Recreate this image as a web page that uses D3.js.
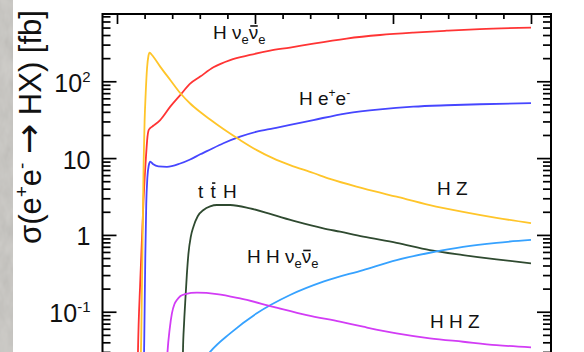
<!DOCTYPE html>
<html>
<head>
<meta charset="utf-8">
<script src="https://cdn.jsdelivr.net/npm/d3@7"></script>
<style>
  html, body { margin: 0; padding: 0; background: #ffffff; }
  svg { display: block; }
  text { font-family: "Liberation Sans", Arial, sans-serif; fill: #111; }
</style>
</head>
<body>
<svg id="chart" width="584" height="352"></svg>
<script>
// Higgs production cross sections sigma(e+e- -> HX) in fb versus sqrt(s) in TeV

// H nu_e nubar_e (WW fusion, incl. Z -> nu nu)
const hnnEnergy = [0.145, 0.152, 0.169, 0.192, 0.210, 0.221, 0.229, 0.240, 0.265, 0.313, 0.386, 0.458, 0.530, 0.603, 0.699, 0.820, 0.964, 1.109, 1.254, 1.423, 1.664, 1.906, 2.147, 2.388, 2.629, 3.0];
const hnnSigma  = [0.005, 0.030, 0.26, 2.8, 10.4, 19, 23, 24.5, 26.5, 31.3, 46.7, 66, 93, 115, 152, 189, 220, 250, 275, 310, 360, 400, 430, 455, 478, 500];

// H e+ e- (ZZ fusion)
const heeEnergy = [0.19, 0.198, 0.205, 0.212, 0.220, 0.230, 0.241, 0.260, 0.300, 0.362, 0.458, 0.530, 0.603, 0.651, 0.771, 0.892, 1.013, 1.133, 1.254, 1.423, 1.664, 1.906, 2.147, 2.388, 2.629, 3.0];
const heeSigma  = [0.005, 0.05, 0.5, 2.5, 5.5, 8.0, 9.0, 8.4, 7.8, 7.7, 8.5, 9.6, 11.2, 12.3, 15.6, 19.0, 22.1, 24.4, 27, 31.3, 38.3, 43.2, 46.7, 48.7, 50.2, 51.8];

// H Z (Higgs-strahlung)
const hzEnergy = [0.165, 0.176, 0.186, 0.193, 0.200, 0.208, 0.218, 0.228, 0.236, 0.248, 0.265, 0.313, 0.386, 0.458, 0.530, 0.603, 0.675, 0.771, 0.892, 1.013, 1.133, 1.254, 1.423, 1.543, 1.784, 2.026, 2.267, 2.508, 2.75, 3.0];
const hzSigma  = [0.005, 0.05, 1.0, 8.6, 30, 70, 150, 215, 236, 226, 207, 155, 104, 70.4, 51.4, 39.8, 31.8, 23.9, 17.2, 12.7, 9.9, 8.1, 6.4, 5.35, 4.04, 3.14, 2.45, 2.0, 1.67, 1.42];

// t tbar H
const tthEnergy = [0.470, 0.478, 0.486, 0.494, 0.506, 0.518, 0.535, 0.554, 0.585, 0.627, 0.675, 0.724, 0.820, 0.964, 1.133, 1.302, 1.495, 1.616, 1.784, 2.026, 2.267, 2.508, 2.75, 3.0];
const tthSigma  = [0.002, 0.03, 0.07, 0.129, 0.3, 0.575, 0.95, 1.28, 1.75, 2.11, 2.35, 2.45, 2.45, 2.22, 1.82, 1.49, 1.22, 1.10, 0.95, 0.79, 0.635, 0.547, 0.48, 0.427];

// H H nu_e nubar_e
const hhnnEnergy = [0.50, 0.55, 0.675, 0.820, 1.013, 1.254, 1.50, 1.784, 2.026, 2.267, 2.508, 2.75, 3.0];
const hhnnSigma  = [0.008, 0.014, 0.030, 0.0523, 0.0953, 0.165, 0.248, 0.349, 0.471, 0.586, 0.70, 0.79, 0.86];

// H H Z
const hhzEnergy = [0.345, 0.366, 0.382, 0.398, 0.416, 0.434, 0.460, 0.494, 0.579, 0.724, 0.892, 1.133, 1.375, 1.616, 1.784, 2.026, 2.267, 2.508, 2.75, 3.0];
const hhzSigma  = [0.005, 0.030, 0.06, 0.0953, 0.125, 0.142, 0.160, 0.170, 0.177, 0.170, 0.149, 0.116, 0.0906, 0.0741, 0.0638, 0.0523, 0.0451, 0.0407, 0.0368, 0.0343];

// axis limits and ticks
const xLimits = [-0.105, 3.145];
const yLimits = [0.00214, 751];
const xMajorTicks = [0, 1, 2, 3];
const xMinorTicks = [0.2, 0.4, 0.6, 0.8, 1.2, 1.4, 1.6, 1.8, 2.2, 2.4, 2.6, 2.8];
const yMajorTicks = [0.01, 0.1, 1, 10, 100];
const yTickLabels = [
  { value: 0.1, base: "10", sup: "-1" },
  { value: 1,   base: "1",  sup: "" },
  { value: 10,  base: "10", sup: "" },
  { value: 100, base: "10", sup: "2" }
];

const series = [
  { name: "hnn",  energy: hnnEnergy,  sigma: hnnSigma,  color: "#ff3434" },
  { name: "hee",  energy: heeEnergy,  sigma: heeSigma,  color: "#4646ff" },
  { name: "hz",   energy: hzEnergy,   sigma: hzSigma,   color: "#ffc52a" },
  { name: "tth",  energy: tthEnergy,  sigma: tthSigma,  color: "#2f4a30" },
  { name: "hhnn", energy: hhnnEnergy, sigma: hhnnSigma, color: "#36a2ff" },
  { name: "hhz",  energy: hhzEnergy,  sigma: hhzSigma,  color: "#d23cf5" }
];

const frame = { left: 102.5, right: 551, top: 14, bottom: 440 };

const svg = d3.select("#chart");

// grey textured margin strip on the far left
const defs = svg.append("defs");
const grain = defs.append("filter").attr("id", "grain").attr("x", 0).attr("y", 0).attr("width", 1).attr("height", 1);
grain.append("feTurbulence").attr("type", "fractalNoise").attr("baseFrequency", "0.09 0.05").attr("numOctaves", 3).attr("seed", 7);
grain.append("feColorMatrix").attr("type", "matrix")
  .attr("values", "0.33 0.33 0.33 0 0  0.33 0.33 0.33 0 0  0.33 0.33 0.33 0 0  0 0 0 0 1");
svg.append("rect").attr("x", 0).attr("y", 0).attr("width", 13).attr("height", 352).attr("fill", "#cbc9c4");
svg.append("rect").attr("x", 0).attr("y", 0).attr("width", 13).attr("height", 352)
  .attr("filter", "url(#grain)").attr("opacity", 0.22);

defs.append("clipPath").attr("id", "plotClip").append("rect")
  .attr("x", frame.left).attr("y", frame.top)
  .attr("width", frame.right - frame.left).attr("height", frame.bottom - frame.top);

const x = d3.scaleLinear().domain(xLimits).range([frame.left, frame.right]);
const y = d3.scaleLog().domain(yLimits).range([frame.bottom, frame.top]);

// minor log ticks 2..9 x 10^k
const yMinorTicks = [];
for (let k = -3; k <= 2; k++) {
  for (let m = 2; m <= 9; m++) {
    const v = m * Math.pow(10, k);
    if (v > yLimits[0] && v < yLimits[1]) yMinorTicks.push(v);
  }
}

// curves
const line = d3.line()
  .x((d) => x(d[0]))
  .y((d) => y(d[1]))
  .curve(d3.curveMonotoneX);

const curves = svg.append("g").attr("clip-path", "url(#plotClip)");
series.forEach((s) => {
  const pts = s.energy.map((e, i) => [e, s.sigma[i]]);
  curves.append("path")
    .datum(pts)
    .attr("d", line)
    .attr("fill", "none")
    .attr("stroke", s.color)
    .attr("stroke-width", 1.8)
    .attr("stroke-linejoin", "round");
});

// axes: ticks point into the plot
function styleAxis(g) {
  g.select(".domain").remove();
  g.selectAll(".tick line").attr("stroke", "#000").attr("stroke-width", 1.7);
  g.selectAll(".tick text").remove();
}

svg.append("g").attr("transform", `translate(0,${frame.top})`)
  .call(d3.axisBottom(x).tickValues(xMajorTicks).tickSize(10).tickFormat(""))
  .call(styleAxis);
svg.append("g").attr("transform", `translate(0,${frame.top})`)
  .call(d3.axisBottom(x).tickValues(xMinorTicks).tickSize(5).tickFormat(""))
  .call(styleAxis);

svg.append("g").attr("transform", `translate(${frame.left},0)`)
  .call(d3.axisRight(y).tickValues(yMajorTicks).tickSize(14).tickFormat(""))
  .call(styleAxis);
svg.append("g").attr("transform", `translate(${frame.left},0)`)
  .call(d3.axisRight(y).tickValues(yMinorTicks).tickSize(8).tickFormat(""))
  .call(styleAxis);

svg.append("g").attr("transform", `translate(${frame.right},0)`)
  .call(d3.axisLeft(y).tickValues(yMajorTicks).tickSize(14).tickFormat(""))
  .call(styleAxis);
svg.append("g").attr("transform", `translate(${frame.right},0)`)
  .call(d3.axisLeft(y).tickValues(yMinorTicks).tickSize(8).tickFormat(""))
  .call(styleAxis);

// frame
svg.append("rect")
  .attr("x", frame.left).attr("y", frame.top)
  .attr("width", frame.right - frame.left).attr("height", frame.bottom - frame.top)
  .attr("fill", "none").attr("stroke", "#000").attr("stroke-width", 2);

// y tick labels
const yLab = svg.append("g");
yTickLabels.forEach((t) => {
  const txt = yLab.append("text")
    .attr("x", 90.5).attr("y", y(t.value) + 10.5)
    .attr("text-anchor", "end")
    .attr("font-size", 25);
  txt.append("tspan").text(t.base);
  if (t.sup) {
    txt.append("tspan").attr("font-size", 15).attr("dy", -10).text(t.sup);
  }
});

// y axis title
const title = svg.append("text")
  .attr("transform", "translate(41,127) rotate(-90)")
  .attr("text-anchor", "middle")
  .attr("font-size", 31);
title.append("tspan").text("σ(e");
title.append("tspan").attr("font-size", 19).attr("dy", -13).text("+");
title.append("tspan").attr("dy", 13).text("e");
title.append("tspan").attr("font-size", 19).attr("dy", -13).text("-");
title.append("tspan").attr("dy", 13).text(" ");
title.append("tspan").attr("font-family", "DejaVu Sans").attr("font-size", 36).text("→");
title.append("tspan").text(" HX) [fb]");

// process labels
const labelSize = 19;
const bars = svg.append("g");

// draws a bar over a single-character tspan, raised to the given fraction of the font size
function overbar(tspan, baseline, raise) {
  const ext = tspan.node().getExtentOfChar(0);
  const yb = baseline - raise * labelSize;
  bars.append("line")
    .attr("x1", ext.x + 1.5).attr("x2", ext.x + ext.width - 0.5)
    .attr("y1", yb).attr("y2", yb)
    .attr("stroke", "#111").attr("stroke-width", 1.6);
}

function nuPair(t, baseline) {
  t.append("tspan").text("ν");
  t.append("tspan").attr("font-size", 13).attr("dy", 5).text("e");
  const nubar = t.append("tspan").attr("dy", -5).text("ν");
  t.append("tspan").attr("font-size", 13).attr("dy", 5).text("e");
  overbar(nubar, baseline, 0.66);
}

let t = svg.append("text").attr("x", 213).attr("y", 38.5).attr("font-size", labelSize);
t.append("tspan").text("H ");
nuPair(t, 38.5);

t = svg.append("text").attr("x", 299).attr("y", 105).attr("font-size", labelSize);
t.append("tspan").text("H e");
t.append("tspan").attr("font-size", 12).attr("dy", -8).text("+");
t.append("tspan").attr("dy", 8).text("e");
t.append("tspan").attr("font-size", 12).attr("dy", -8).text("-");

t = svg.append("text").attr("x", 198).attr("y", 197.5).attr("font-size", labelSize).attr("word-spacing", 2);
t.append("tspan").text("t ");
const tbar = t.append("tspan").text("t");
t.append("tspan").text(" H");
overbar(tbar, 197.5, 0.76);

t = svg.append("text").attr("x", 437).attr("y", 195).attr("font-size", labelSize);
t.append("tspan").text("H Z");

t = svg.append("text").attr("x", 247).attr("y", 263).attr("font-size", labelSize);
t.append("tspan").text("H H ");
nuPair(t, 263);

t = svg.append("text").attr("x", 430).attr("y", 327.5).attr("font-size", labelSize);
t.append("tspan").text("H H Z");
</script>
</body>
</html>
